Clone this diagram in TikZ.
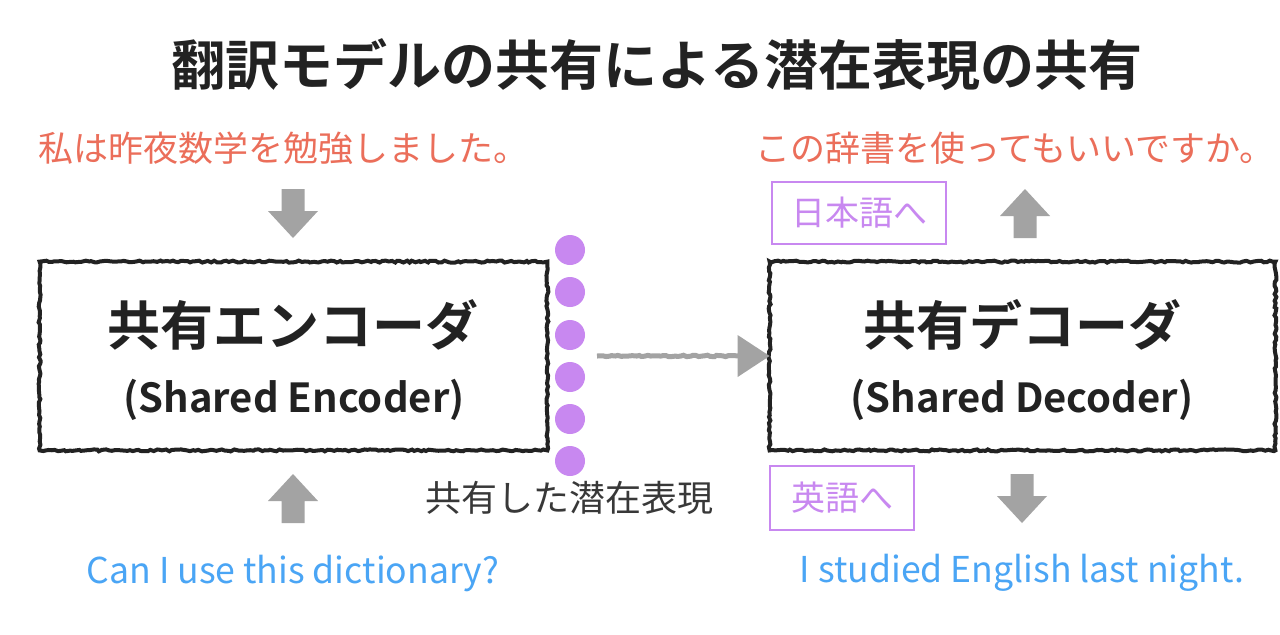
\documentclass[tikz,border=0pt]{standalone}
\usepackage{fontspec}
\setmainfont{Noto Sans CJK JP}
\newfontfamily\jpbold{Noto Sans CJK JP Bold}
\usetikzlibrary{arrows.meta,decorations.pathmorphing}
\definecolor{txtred}{HTML}{EB6E5A}
\definecolor{txtblue}{HTML}{4AA5F5}
\definecolor{lpurple}{HTML}{C888F0}
\definecolor{agray}{HTML}{A3A3A3}
\definecolor{ink}{HTML}{222222}
\tikzset{
  roughbox/.style={draw=ink, line width=2pt, decorate,
    decoration={random steps, segment length=1.5pt, amplitude=0.5pt}},
  boxtitle/.style={font=\jpbold\fontsize{26.5}{30}\selectfont, text=ink},
  boxsub/.style={font=\jpbold\fontsize{20}{24}\selectfont, text=ink},
  redtxt/.style={font=\fontsize{17.5}{20}\selectfont, text=txtred},
  bluetxt/.style={font=\fontsize{17.8}{20}\selectfont, text=txtblue},
  langbox/.style={draw=lpurple, line width=1.2pt, text=lpurple,
    font=\fontsize{17}{20}\selectfont, inner sep=0pt},
  dot/.style={circle, fill=lpurple, minimum size=15pt, inner sep=0pt},
  blockarrow/.style={fill=agray, draw=none},
}
\begin{document}
\begin{tikzpicture}[x=0.5pt, y=-0.5pt]
\useasboundingbox (0,0) rectangle (1280,634);
\fill[white] (0,0) rectangle (1280,634);

% title
\node[font=\jpbold\fontsize{27}{30}\selectfont, text=ink] (title) at (657,65) {翻訳モデルの共有による潜在表現の共有};

% sentences
\node[redtxt] (srcja) at (284,148) {私は昨夜数学を勉強しました。};
\node[redtxt] (tgtja) at (1015,148) {この辞書を使ってもいいですか。};
\node[bluetxt] (srcen) at (293,573) {Can I use this dictionary?};
\node[bluetxt] (tgten) at (1022,573) {I studied English last night.};

% boxes
\node[minimum width=253.5pt, minimum height=94pt] (enc) at (293.5,356) {};
\draw[roughbox] (enc.north west) rectangle (enc.south east);
\node[boxtitle] (enct) at (293,325) {共有エンコーダ};
\node[boxsub] (encs) at (294,400) {(Shared Encoder)};

\node[minimum width=252.5pt, minimum height=94pt] (dec) at (1022.5,356) {};
\draw[roughbox] (dec.north west) rectangle (dec.south east);
\node[boxtitle] (dect) at (1022,325) {共有デコーダ};
\node[boxsub] (decs) at (1022,400) {(Shared Decoder)};

% latent dots
\foreach \i/\y in {1/250,2/292,3/335,4/377,5/419,6/461}{
  \node[dot] (d\i) at (570,\y) {};
}
\node[font=\fontsize{18}{20}\selectfont, text=ink!90] (latent) at (569,498) {共有した潜在表現};

% connector
\coordinate (lat) at (597,356);
\draw[agray, line width=2.5pt, decorate, decoration={random steps, segment length=1.5pt, amplitude=0.4pt}] (lat) -- ([xshift=-14pt]dec.west);
\draw[agray, line width=0pt, -{Triangle[length=16pt,width=21pt]}] ([xshift=-16pt]dec.west) -- (dec.west);

% language boxes
\node[langbox, minimum width=87pt, minimum height=31pt] (tojp) at (859,213) {日本語へ};
\node[langbox, minimum width=72pt, minimum height=32pt] (toen) at (842,498) {英語へ};

% block arrows
\newcommand{\downarrowblk}[3]{% x, ytop, ybottom
  \fill[blockarrow] (#1-11.5,#2) -- (#1+11.5,#2) -- (#1+11.5,#2+22) -- (#1+25,#2+22)
    -- (#1,#3) -- (#1-25,#2+22) -- (#1-11.5,#2+22) -- cycle;}
\newcommand{\uparrowblk}[3]{% x, ybottom, ytop
  \fill[blockarrow] (#1-11.5,#2) -- (#1+11.5,#2) -- (#1+11.5,#2-22) -- (#1+25,#2-22)
    -- (#1,#3) -- (#1-25,#2-22) -- (#1-11.5,#2-22) -- cycle;}
\downarrowblk{293}{189}{238}
\uparrowblk{293}{523}{474}
\uparrowblk{1025}{238}{189}
\downarrowblk{1022}{474}{523}
\end{tikzpicture}
\end{document}
